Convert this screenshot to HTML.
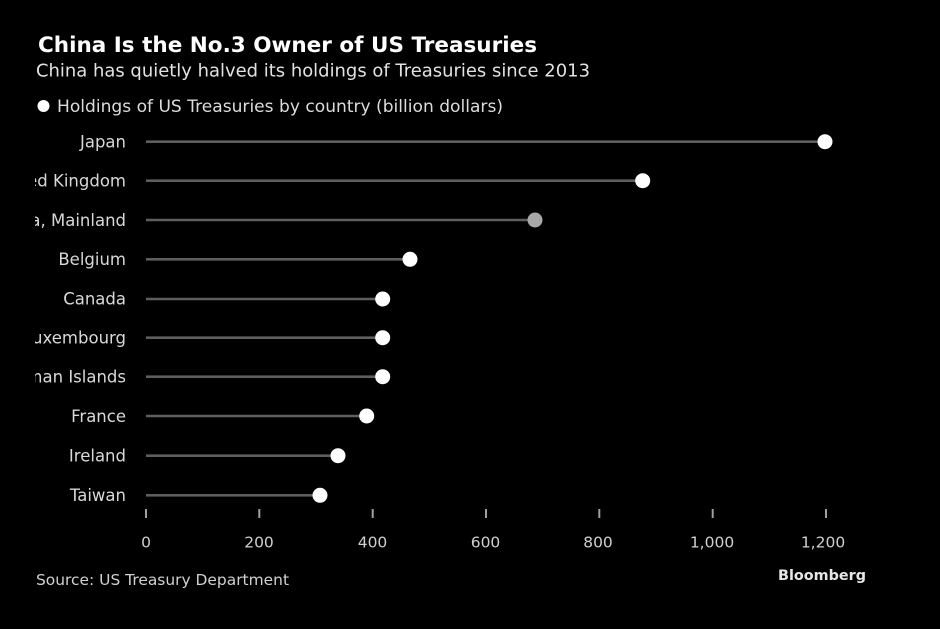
<!DOCTYPE html>
<html>
<head>
<meta charset="utf-8">
<style>
  html, body { margin: 0; padding: 0; background: #000; }
  body { width: 940px; height: 629px; overflow: hidden; }
  svg { display: block; }
  text { font-family: "DejaVu Sans", "Liberation Sans", sans-serif; }
</style>
</head>
<body>
<svg width="940" height="629" viewBox="0 0 940 629" xmlns="http://www.w3.org/2000/svg">
  <rect x="0" y="0" width="940" height="629" fill="#000"/>
  <defs>
    <clipPath id="lblclip"><rect x="35" y="120" width="100" height="400"/></clipPath>
  </defs>

  <!-- Title block -->
  <text x="38" y="52" font-size="21.5" font-weight="bold" fill="#ffffff" textLength="499" lengthAdjust="spacingAndGlyphs">China Is the No.3 Owner of US Treasuries</text>
  <text x="36" y="76.5" font-size="17.5" fill="#e2e2e2" textLength="554" lengthAdjust="spacingAndGlyphs">China has quietly halved its holdings of Treasuries since 2013</text>

  <!-- Legend -->
  <circle cx="43.5" cy="106" r="6" fill="#ffffff"/>
  <text x="57" y="112" font-size="16.5" fill="#dcdcdc" textLength="446" lengthAdjust="spacingAndGlyphs">Holdings of US Treasuries by country (billion dollars)</text>

  <!-- Category labels -->
  <g clip-path="url(#lblclip)" font-size="16.5" fill="#d8d8d8" text-anchor="end">
    <text x="126" y="147.5">Japan</text>
    <text x="126" y="186.5">United Kingdom</text>
    <text x="126" y="225.8">China, Mainland</text>
    <text x="126" y="265">Belgium</text>
    <text x="126" y="304.5">Canada</text>
    <text x="126" y="343.5">Luxembourg</text>
    <text x="126" y="382.5">Cayman Islands</text>
    <text x="126" y="421.8">France</text>
    <text x="126" y="461.5">Ireland</text>
    <text x="126" y="501">Taiwan</text>
  </g>

  <!-- Stems -->
  <g stroke="#5e5e5e" stroke-width="2.6">
    <line x1="146" y1="141.7" x2="825" y2="141.7"/>
    <line x1="146" y1="180.7" x2="642.7" y2="180.7"/>
    <line x1="146" y1="220" x2="535" y2="220"/>
    <line x1="146" y1="259.3" x2="410" y2="259.3"/>
    <line x1="146" y1="299" x2="382.7" y2="299"/>
    <line x1="146" y1="337.7" x2="382.7" y2="337.7"/>
    <line x1="146" y1="376.7" x2="382.7" y2="376.7"/>
    <line x1="146" y1="416" x2="366.7" y2="416"/>
    <line x1="146" y1="455.7" x2="338" y2="455.7"/>
    <line x1="146" y1="495.3" x2="320" y2="495.3"/>
  </g>

  <!-- Dots -->
  <g fill="#ffffff">
    <circle cx="825" cy="141.7" r="7.5"/>
    <circle cx="642.7" cy="180.7" r="7.5"/>
    <circle cx="535" cy="220" r="7.5" fill="#a8a8a8"/>
    <circle cx="410" cy="259.3" r="7.5"/>
    <circle cx="382.7" cy="299" r="7.5"/>
    <circle cx="382.7" cy="337.7" r="7.5"/>
    <circle cx="382.7" cy="376.7" r="7.5"/>
    <circle cx="366.7" cy="416" r="7.5"/>
    <circle cx="338" cy="455.7" r="7.5"/>
    <circle cx="320" cy="495.3" r="7.5"/>
  </g>

  <!-- Axis ticks -->
  <g stroke="#a0a0a0" stroke-width="2">
    <line x1="146" y1="509" x2="146" y2="518"/>
    <line x1="259.3" y1="509" x2="259.3" y2="518"/>
    <line x1="372.7" y1="509" x2="372.7" y2="518"/>
    <line x1="486" y1="509" x2="486" y2="518"/>
    <line x1="599.3" y1="509" x2="599.3" y2="518"/>
    <line x1="712.7" y1="509" x2="712.7" y2="518"/>
    <line x1="826" y1="509" x2="826" y2="518"/>
  </g>
  <g font-size="15.5" fill="#cfcfcf" text-anchor="middle">
    <text x="146" y="547.5">0</text>
    <text x="259" y="547.5">200</text>
    <text x="372.5" y="547.5">400</text>
    <text x="485.5" y="547.5">600</text>
    <text x="598" y="547.5">800</text>
    <text x="712" y="547.5">1,000</text>
    <text x="823" y="547.5">1,200</text>
  </g>

  <!-- Footer -->
  <text x="36" y="585" font-size="15.5" fill="#d0d0d0" textLength="253" lengthAdjust="spacingAndGlyphs">Source: US Treasury Department</text>
  <text x="778" y="580" font-size="14.5" font-weight="bold" fill="#e6e6e6" textLength="88" lengthAdjust="spacingAndGlyphs">Bloomberg</text>
</svg>
</body>
</html>
